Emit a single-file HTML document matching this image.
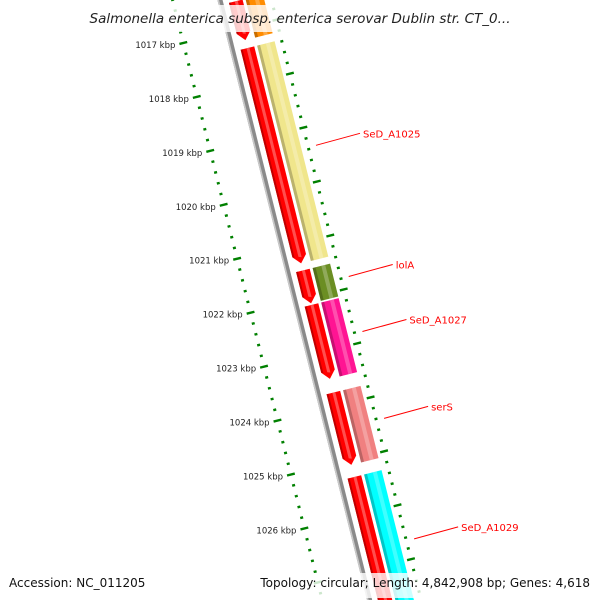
<!DOCTYPE html>
<html><head><meta charset="utf-8">
<style>
html,body{margin:0;padding:0;background:#fff;width:600px;height:600px;overflow:hidden;}
svg{display:block;overflow:hidden;font-family:"DejaVu Sans","Liberation Sans",sans-serif;}
</style></head>
<body>
<svg id="map" width="600" height="600" viewBox="0 0 600 600">
  <rect width="600" height="600" fill="#fff"/>
  <g id="rot" transform="translate(220,0) rotate(-14.0)"></g>
  <g id="ann"></g>
  <rect x="86" y="5" width="428" height="27" fill="#fff" opacity="0.8"/>
  <text x="300" y="23" text-anchor="middle" font-size="13.5" font-style="italic" fill="#222">Salmonella enterica subsp. enterica serovar Dublin str. CT_0...</text>
  <rect x="4" y="573" width="148" height="25" fill="#fff" opacity="0.8"/>
  <text x="9" y="587" font-size="12" fill="#111">Accession: NC_011205</text>
  <rect x="258" y="573" width="338" height="25" fill="#fff" opacity="0.8"/>
  <text x="590" y="587" text-anchor="end" font-size="12" fill="#111">Topology: circular; Length: 4,842,908 bp; Genes: 4,618</text>
</svg>
<script>
// ---- data ----
const geneStarts = [1016500, 1017368, 1021490, 1022130, 1023755, 1025318];
const geneEnds   = [1017220, 1021360, 1022100, 1023500, 1025095, 1028000];
const geneColors = ["#ff8c00", "#f0e68c", "#6b8e23", "#ff1493", "#f08080", "#00ffff"];
const geneNames  = ["", "SeD_A1025", "lolA", "SeD_A1027", "serS", "SeD_A1029"];
const tickKbp    = [1017, 1018, 1019, 1020, 1021, 1022, 1023, 1024, 1025, 1026];
const tickLabels = ["1017 kbp","1018 kbp","1019 kbp","1020 kbp","1021 kbp","1022 kbp","1023 kbp","1024 kbp","1025 kbp","1026 kbp"];
const viewStart = 1016000, viewEnd = 1028400, minorStep = 200;

// ---- axis ----
const S0 = 32.8, PX_PER_BP = 0.0556;
function sPos(bp){ return S0 + (bp - 1017000) * PX_PER_BP; }
const TH = -14.0 * Math.PI / 180, C = Math.cos(TH), SN = Math.sin(TH);
function toScreen(x, s){ return [220 + x*C - s*SN, x*SN + s*C]; }

const NS = "http://www.w3.org/2000/svg";
const rot = document.getElementById('rot');
const ann = document.getElementById('ann');
function mk(tag, attrs, parent){
  const e = document.createElementNS(NS, tag);
  for (const k in attrs) e.setAttribute(k, attrs[k]);
  parent.appendChild(e);
  return e;
}

// backbone
let bb = mk('rect', {x:-2.5, y:-20, width:5, height:660, fill:'#8a8a8a'}, rot);


let bb2 = mk('rect', {x:-2.5, y:-20, width:1.6, height:660, fill:'#c8c8c8'}, rot);



// ticks
for (let bp = viewStart; bp <= viewEnd; bp += minorStep){
  const s = sPos(bp);
  const major = (bp % 1000 === 0);
  const half = major ? 4 : 1.5;
  let t1 = mk('line', {x1:-46-half, x2:-46+half, y1:s, y2:s, stroke:'#008000', 'stroke-width':2.4}, rot);
  
  
  let t2 = mk('line', {x1:50-half, x2:50+half, y1:s, y2:s, stroke:'#008000', 'stroke-width':2.4}, rot);
  
  
}
tickKbp.forEach((k, i) => {
  const p = toScreen(-50, sPos(k*1000));
  const t = mk('text', {x:p[0]-4, y:p[1]+4, 'text-anchor':'end', 'font-size':8.5, fill:'#222'}, ann);
  t.textContent = tickLabels[i];
  
  
});

// genes
geneStarts.forEach((st, i) => {
  const a = sPos(st), b = sPos(geneEnds[i]);
  const head = Math.min(8, (b-a)*0.4);
  const x1 = 8, x2 = 22;
  const arrow = mk('polygon', {points:`${x1},${a} ${x2},${a} ${x2},${b-head} ${(x1+x2)/2},${b} ${x1},${b-head}`, fill:'#ff0000'}, rot);
  
  
  const hl = mk('polygon', {points:`${x1+6},${a} ${x1+9},${a} ${x1+9},${b-head+2} ${x1+6},${b-head+1}`, fill:'#ff7070', opacity:0.7}, rot);
  
  
  const sh = mk('polygon', {points:`${x1},${a} ${x1+2},${a} ${x1+2},${b-head+1} ${x1},${b-head}`, fill:'#b00000', opacity:0.8}, rot);
  
  
  const cx1 = 25, cx2 = 43;
  const r = mk('rect', {x:cx1, y:a, width:cx2-cx1, height:b-a, fill:geneColors[i]}, rot);
  
  
  const r2 = mk('rect', {x:cx1, y:a, width:3, height:b-a, fill:'#000', opacity:0.22}, rot);
  
  
  const r3 = mk('rect', {x:cx1+9, y:a, width:4, height:b-a, fill:'#fff', opacity:0.25}, rot);
  
  
  if (geneNames[i]){
    const p = toScreen(58, (a+b)/2);
    const ex = p[0]+44, ey = p[1]-12;
    const ln = mk('line', {x1:p[0], y1:p[1], x2:ex, y2:ey, stroke:'#ff0000', 'stroke-width':1}, ann);
    
    
    const t = mk('text', {x:ex+3, y:ey+4, 'font-size':10, fill:'#ff0000'}, ann);
    t.textContent = geneNames[i];
    
    
  }
});
</script>
</body></html>
